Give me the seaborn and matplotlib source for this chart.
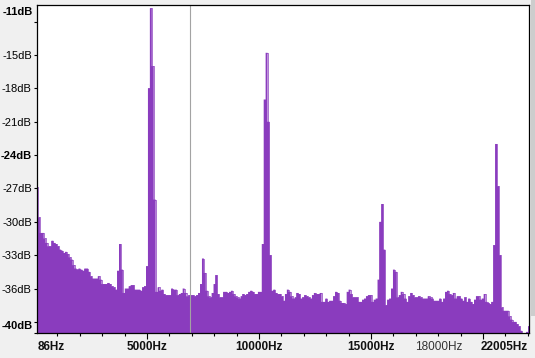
import numpy as np
import pandas as pd
import matplotlib
matplotlib.use("Agg")
import matplotlib.pyplot as plt
import matplotlib.transforms as mtransforms
from matplotlib.patches import Rectangle
import seaborn as sns

# ---------------- data ----------------
BIN_HZ = 86.13          # FFT bin width (44100 / 512)
CURSOR_HZ = 6900        # grey cursor line

# spectrum level (dB) per FFT bin, bins 1..256, in four chunks
levels_a = [-26.9, -29.6, -31.0, -31.0, -31.5, -31.9, -32.2, -32.2, -31.7, -31.9,
            -32.0, -32.2, -32.5, -32.6, -32.8, -32.7, -32.9, -33.2, -33.4, -33.9,
            -34.2, -34.3, -34.2, -34.3, -34.4, -34.2, -34.2, -34.5, -34.9, -35.1,
            -35.1, -35.1, -34.9, -35.2, -35.6, -35.6, -35.6, -35.5, -35.6, -35.8,
            -35.9, -36.1, -34.4, -32.0, -34.3, -36.4, -36.0, -36.0, -35.8, -35.7,
            -35.7, -36.1, -36.1, -36.1, -36.2, -35.9, -35.8, -34.0, -18.0, -10.8,
            -16.0, -28.0, -36.3, -35.9]
levels_b = [-36.2, -36.1, -36.5, -36.6, -36.6, -36.6, -36.0, -36.1, -36.1, -36.6,
            -36.5, -36.4, -36.0, -36.4, -36.7, -36.6, -36.6, -36.6, -36.7, -36.6,
            -36.4, -35.6, -33.3, -34.6, -36.2, -36.7, -36.8, -36.4, -35.6, -34.8,
            -36.5, -36.8, -36.8, -36.3, -36.3, -36.4, -36.3, -36.2, -36.5, -36.7,
            -36.8, -36.9, -36.7, -36.5, -36.6, -36.5, -36.3, -36.2, -36.3, -36.5,
            -36.5, -36.3, -36.3, -32.0, -19.0, -14.8, -21.0, -33.0, -36.2, -36.1,
            -36.4, -36.5, -36.5, -36.7]
levels_c = [-37.1, -36.5, -36.1, -36.3, -36.7, -36.9, -36.8, -36.4, -36.5, -36.9,
            -36.8, -36.6, -36.7, -36.8, -36.9, -36.6, -36.4, -36.5, -36.5, -36.4,
            -37.2, -37.2, -36.9, -37.2, -37.1, -37.1, -36.7, -36.3, -36.4, -37.1,
            -37.3, -37.3, -37.4, -36.3, -36.1, -36.5, -36.8, -36.8, -36.8, -37.2,
            -37.2, -37.0, -36.9, -36.7, -36.6, -36.6, -37.2, -37.0, -36.9, -35.2,
            -30.0, -28.4, -32.5, -37.5, -37.0, -36.9, -36.0, -34.3, -34.5, -36.8,
            -36.6, -36.3, -36.5, -36.9]
levels_d = [-37.2, -36.7, -36.4, -36.6, -36.8, -36.8, -36.7, -36.8, -36.9, -36.9,
            -36.9, -36.7, -36.8, -36.9, -37.1, -37.1, -37.1, -36.9, -37.2, -36.9,
            -36.3, -36.2, -36.5, -36.6, -36.4, -36.9, -36.7, -36.7, -36.9, -37.1,
            -36.8, -37.2, -36.9, -37.2, -37.4, -37.0, -36.7, -36.7, -37.0, -36.9,
            -36.5, -37.2, -37.3, -37.4, -37.2, -32.1, -23.0, -26.8, -33.0, -37.7,
            -38.0, -38.0, -38.0, -38.5, -38.8, -39.0, -39.0, -39.2, -39.4, -39.8,
            -40.0, -41.0, -39.9, -39.4]

x_major_labels = ["86Hz", "5000Hz", "10000Hz", "15000Hz", "18000Hz", "22005Hz"]
x_label_pos = [86, 5000, 10000, 15000, 18000, 22005]
y_tick_vals = [-15, -18, -21, -24, -27, -30, -33, -36]
y_edge_labels = ["-11dB", "-40dB"]

# ---------------- build ----------------
levels = levels_a + levels_b + levels_c + levels_d
bins = np.arange(1, len(levels) + 1)
df = pd.DataFrame({"freq": bins * BIN_HZ, "db": levels})

PURPLE = "#8a3cbe"
BG = "#f0f0f0"

W, H = 535, 358
fig = plt.figure(figsize=(W / 100, H / 100), dpi=100, facecolor=BG)
ax = fig.add_axes([37 / W, 25 / H, 492 / W, 328 / H])
ax.set_facecolor("white")

ax.fill_between(df["freq"], df["db"], -45, step="mid", color=PURPLE, lw=0)
sns.lineplot(data=df, x="freq", y="db", drawstyle="steps-mid", color=PURPLE,
             lw=0.5, ax=ax, legend=False)
ax.axvline(CURSOR_HZ, color="#a3a3a3", lw=0.8)

ax.set_xlim(86, 22050)
ax.set_ylim(-39.95, -10.5)
ax.set_xlabel("")
ax.set_ylabel("")

for s in ax.spines.values():
    s.set_color("black")
    s.set_linewidth(0.9)

FONT = "Liberation Sans"
# y ticks
ax.set_yticks(y_tick_vals + [-12, -39, -40])
ax.set_yticklabels([f"{v}dB" for v in y_tick_vals] + ["", "", ""])
ax.tick_params(axis="y", length=2.2, width=0.8, pad=1.5, labelsize=8)
for lab in ax.get_yticklabels():
    lab.set_fontfamily(FONT)
    if lab.get_text() == "-24dB":
        lab.set_fontweight("bold")
ytrans = mtransforms.blended_transform_factory(ax.transAxes, ax.transData)
ax.text(-4 / 492, -11.1, y_edge_labels[0], transform=ytrans, ha="right", va="center",
        fontsize=8, fontweight="bold", family=FONT)
ax.text(-4 / 492, -39.4, y_edge_labels[1], transform=ytrans, ha="right", va="center",
        fontsize=8, fontweight="bold", family=FONT)

# x ticks
ax.set_xticks(np.arange(1000, 22001, 1000), minor=True)
ax.set_xticks([5000, 10000, 15000, 20000])
ax.set_xticklabels([])
ax.tick_params(axis="x", which="minor", length=1.8, width=0.8)
ax.tick_params(axis="x", which="major", length=4, width=0.8)
xtrans = mtransforms.blended_transform_factory(ax.transData, ax.transAxes)
for lab, pos in zip(x_major_labels, x_label_pos):
    ha = "center"
    if lab == "86Hz":
        ha = "left"
    elif lab == "22005Hz":
        ha = "right"
    weight = "normal" if lab == "18000Hz" else "bold"
    xx = pos
    if ha == "left":
        xx = 86 + 1 / 0.02235
    ax.text(xx, -14 / 328, lab, transform=xtrans, ha=ha, va="center", fontsize=8.5,
            fontweight=weight, family=FONT, color="#111111" if weight == "bold" else "#333333")

# right scrollbar strip
fig.patches.append(Rectangle((531 / W, 42 / H), 4 / W, 1 - 42 / H,
                             transform=fig.transFigure, color="#cdcdcd", lw=0))

fig.savefig("out.png", dpi=100, facecolor=BG)
